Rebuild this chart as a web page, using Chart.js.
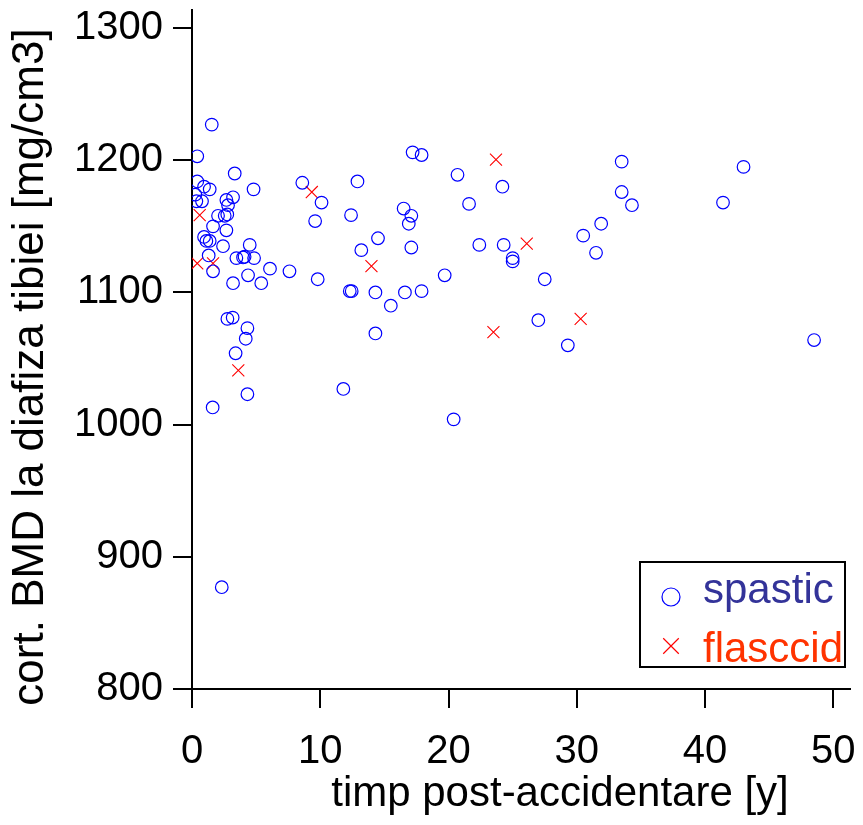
<!DOCTYPE html>
<html>
<head>
<meta charset="utf-8">
<script src="https://cdn.jsdelivr.net/npm/chart.js@4.4.0/dist/chart.umd.min.js"></script>
<style>
    html, body { margin: 0; padding: 0; background: #fff; }
    #wrap { width: 863px; height: 825px; }
</style>
</head>
<body>
<div id="wrap"><canvas id="scatter" width="863" height="825"></canvas></div>
<script>
// Values: [years after injury, cortical BMD]
const spasticX = [1.54, 0.41, 3.33, 4.8, 8.6, 0.41, 0.94, 1.38, 0.26, 0.34, 0.78, 2.68, 3.2, 2.81,
    2.03, 2.55, 2.75, 1.64, 2.68, 0.94, 1.12, 1.38, 2.42, 4.5, 1.3, 1.64, 3.46, 3.98, 4.1, 4.84,
    3.2, 4.37, 5.4, 6.08, 7.6, 2.76, 3.17, 4.32, 4.19, 3.4, 4.32, 1.61, 2.32,
    17.2, 17.9, 20.7, 12.9, 10.1, 21.6, 9.6, 12.4, 16.5, 17.1, 16.9, 14.5, 13.2, 17.1, 22.4,
    9.8, 12.3, 12.45, 14.3, 15.5, 16.6, 17.9, 19.7, 14.3, 11.8, 20.4,
    24.2, 33.5, 33.5, 34.3, 31.9, 30.5, 31.5, 24.3, 25.0, 25.0, 27.5, 27.0, 29.3,
    43.0, 41.4, 48.5];
const spasticY = [1227, 1203, 1190, 1178, 1183, 1184, 1180, 1178, 1174, 1169, 1169, 1170, 1172, 1166,
    1158, 1158, 1159, 1150, 1147, 1142, 1139, 1139, 1135, 1136, 1128, 1116, 1126, 1126.5, 1127, 1126,
    1107, 1113, 1107, 1118, 1116, 1080, 1081, 1073, 1065, 1054, 1023, 1013, 877,
    1206, 1204, 1189, 1184, 1168, 1167, 1154, 1158.5, 1163.5, 1158, 1152, 1141, 1132, 1134, 1136,
    1110, 1101, 1101, 1100, 1090, 1100, 1101, 1113, 1069, 1027, 1004,
    1180, 1199, 1176, 1166, 1152, 1143, 1130, 1136, 1126, 1123.5, 1110, 1079, 1060,
    1195, 1168, 1064];
const flaccidX = [0.6, 0.41, 1.64, 3.61, 9.34, 13.99, 23.7, 26.1, 30.3, 23.5];
const flaccidY = [1158.5, 1122, 1122, 1041, 1176, 1120, 1200.5, 1137, 1080, 1070];

const xTicks = [0, 10, 20, 30, 40, 50];
const yTicks = [800, 900, 1000, 1100, 1200, 1300];

const seriesNames = ['spastic', 'flasccid'];
const xTitle = 'timp post-accidentare [y]';
const yTitle = 'cort. BMD la diafiza tibiei [mg/cm3]';

const FONT = '"Liberation Sans", Arial, sans-serif';

function toPoints(xs, ys) {
    return xs.map((x, i) => ({ x: x, y: ys[i] }));
}

// Axis titles and the boxed legend are drawn by hand, the rest comes from Chart.js
const decorations = {
    id: 'decorations',
    afterDraw(chart) {
        const ctx = chart.ctx;
        ctx.save();
        ctx.fillStyle = '#000';
        ctx.font = '42px ' + FONT;
        ctx.textAlign = 'center';
        ctx.textBaseline = 'alphabetic';
        ctx.fillText(xTitle, 560, 806);

        ctx.translate(43, 367);
        ctx.rotate(-Math.PI / 2);
        ctx.font = '44px ' + FONT;
        ctx.fillText(yTitle, 0, 0);
        ctx.restore();

        // legend box
        ctx.save();
        ctx.strokeStyle = '#000';
        ctx.lineWidth = 2;
        ctx.fillStyle = '#fff';
        ctx.fillRect(640, 562, 205, 105);
        ctx.strokeRect(640, 562, 205, 105);
        const rows = [
            { y: 597, base: 603, style: 'circle', r: 9, stroke: '#0000ff', text: '#333399' },
            { y: 646, base: 662, style: 'crossRot', r: 11, stroke: '#ff0000', text: '#ff3300' }
        ];
        rows.forEach((row, i) => {
            ctx.strokeStyle = row.stroke;
            ctx.fillStyle = 'rgba(0,0,0,0)';
            ctx.lineWidth = 1.2;
            Chart.helpers.drawPoint(ctx, { pointStyle: row.style, radius: row.r, rotation: 0, borderWidth: 1.2 }, 671, row.y);
            ctx.fillStyle = row.text;
            ctx.font = '42px ' + FONT;
            ctx.textAlign = 'left';
            ctx.textBaseline = 'alphabetic';
            ctx.fillText(seriesNames[i], 703, row.base);
        });
        ctx.restore();
    }
};

const ctx = document.getElementById('scatter').getContext('2d');
const chart = new Chart(ctx, {
    type: 'scatter',
    data: {
        datasets: [
            {
                label: seriesNames[0],
                data: toPoints(spasticX, spasticY),
                pointStyle: 'circle',
                pointRadius: 6.3,
                pointHoverRadius: 6.3,
                borderColor: '#0000ff',
                backgroundColor: 'rgba(0,0,0,0)',
                borderWidth: 1.2
            },
            {
                label: seriesNames[1],
                data: toPoints(flaccidX, flaccidY),
                pointStyle: 'crossRot',
                pointRadius: 8.5,
                pointHoverRadius: 8.5,
                borderColor: '#ff0000',
                backgroundColor: '#ff0000',
                borderWidth: 1.1
            }
        ]
    },
    options: {
        responsive: false,
        animation: false,
        events: [],
        layout: { padding: { left: 0, right: 13, top: 8, bottom: 0 } },
        plugins: {
            legend: { display: false },
            tooltip: { enabled: false }
        },
        scales: {
            x: {
                type: 'linear',
                min: 0,
                max: 51.3,
                afterBuildTicks: function(scale) {
                    scale.ticks = xTicks.map(v => ({ value: v }));
                },
                afterFit: function(scale) {
                    scale.height = 136;
                    scale.paddingLeft = 0;
                    scale.paddingRight = 0;
                },
                border: { color: '#000', width: 2 },
                grid: { drawOnChartArea: false, drawTicks: true, tickLength: 19, color: '#000', lineWidth: 2 },
                ticks: {
                    color: '#000', font: { family: FONT, size: 40 }, padding: 20, maxRotation: 0,
                    callback: v => String(v)
                }
            },
            y: {
                type: 'linear',
                min: 800,
                max: 1314,
                afterBuildTicks: function(scale) {
                    scale.ticks = yTicks.map(v => ({ value: v }));
                },
                afterFit: function(scale) {
                    scale.width = 192;
                    scale.paddingTop = 0;
                    scale.paddingBottom = 0;
                },
                border: { color: '#000', width: 2 },
                grid: { drawOnChartArea: false, drawTicks: true, tickLength: 19, color: '#000', lineWidth: 2 },
                ticks: {
                    color: '#000', font: { family: FONT, size: 40 }, padding: 10,
                    callback: v => String(v)
                }
            }
        }
    },
    plugins: [decorations]
});
</script>
</body>
</html>
